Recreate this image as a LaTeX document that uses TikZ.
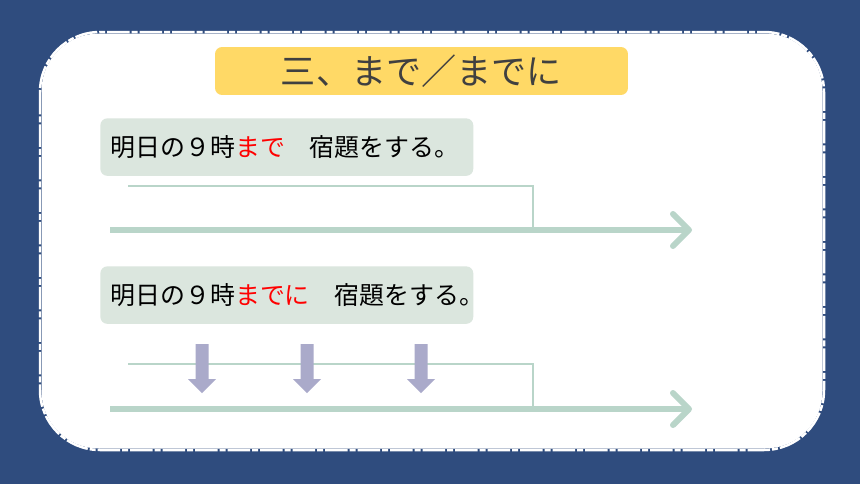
\documentclass[tikz,border=0pt]{standalone}
\usepackage{fontspec}
\newfontfamily\jpfont{Noto Sans CJK JP}
\usetikzlibrary{arrows.meta}
\definecolor{bgblue}{RGB}{47,76,126}
\definecolor{titleyellow}{RGB}{255,217,102}
\definecolor{titlegray}{RGB}{64,64,64}
\definecolor{boxgreen}{RGB}{219,230,222}
\definecolor{lineteal}{RGB}{185,213,201}
\definecolor{downpurple}{RGB}{170,170,202}
\tikzset{
  sentence/.style={fill=boxgreen,rounded corners=0.14cm,anchor=north west,inner xsep=0.2cm,inner ysep=0pt,
    text width=7.06cm,minimum height=1.15cm,align=left,font=\jpfont\fontsize{14.2pt}{17pt}\selectfont},
  bracket/.style={lineteal,line width=0.04cm},
  timeline/.style={lineteal,line width=0.12cm,-{Straight Barb[length=0.32cm,width=0.64cm,round]}}
}
\begin{document}
\begin{tikzpicture}[x=0.02cm,y=-0.02cm]
        \useasboundingbox (0,0) rectangle (860,484);
        \fill[bgblue] (0,0) rectangle (860,484);
        \fill[white,rounded corners=1.15cm] (41.5,33.5) rectangle (822.5,448.5);
        \draw[white,line width=0.05cm,rounded corners=1.2cm,dash pattern=on 0.45cm off 0.04cm on 0.12cm off 0.04cm] (40,32) rectangle (824,450);
        \node[fill=titleyellow,rounded corners=0.14cm,minimum width=8.26cm,minimum height=0.96cm,text=titlegray,font=\jpfont\fontsize{20pt}{24pt}\selectfont] (title) at (421.5,71) {三、まで／までに};
        % by 9 o'clock
        \node[sentence] (made) at (100,118) {明日の９時\textcolor{red}{まで}　宿題をする。};
        \coordinate (made start) at (128,186);
        \coordinate (made end) at (533,186);
        \coordinate (line1 left) at (110,230);
        \coordinate (line1 right) at (692,230);
        \draw[bracket] (made start) -- (made end) -- (made end |- line1 left);
        \draw[timeline] (line1 left) -- (line1 right);
        % before 9 o'clock
        \node[sentence] (madeni) at (100,266) {明日の９時\textcolor{red}{までに}　宿題をする。};
        \coordinate (madeni start) at (128,364);
        \coordinate (madeni end) at (533,364);
        \coordinate (line2 left) at (110,409);
        \coordinate (line2 right) at (692,409);
        \draw[bracket] (madeni start) -- (madeni end) -- (madeni end |- line2 left);
        \draw[timeline] (line2 left) -- (line2 right);
        \foreach \x in {202,307,421}
            \fill[downpurple] (\x-6.5,344) -- ++(13,0) -- ++(0,35) -- ++(7.5,0) -- (\x,393) -- (\x-14,379) -- ++(7.5,0) -- cycle;
    \end{tikzpicture}
\end{document}
